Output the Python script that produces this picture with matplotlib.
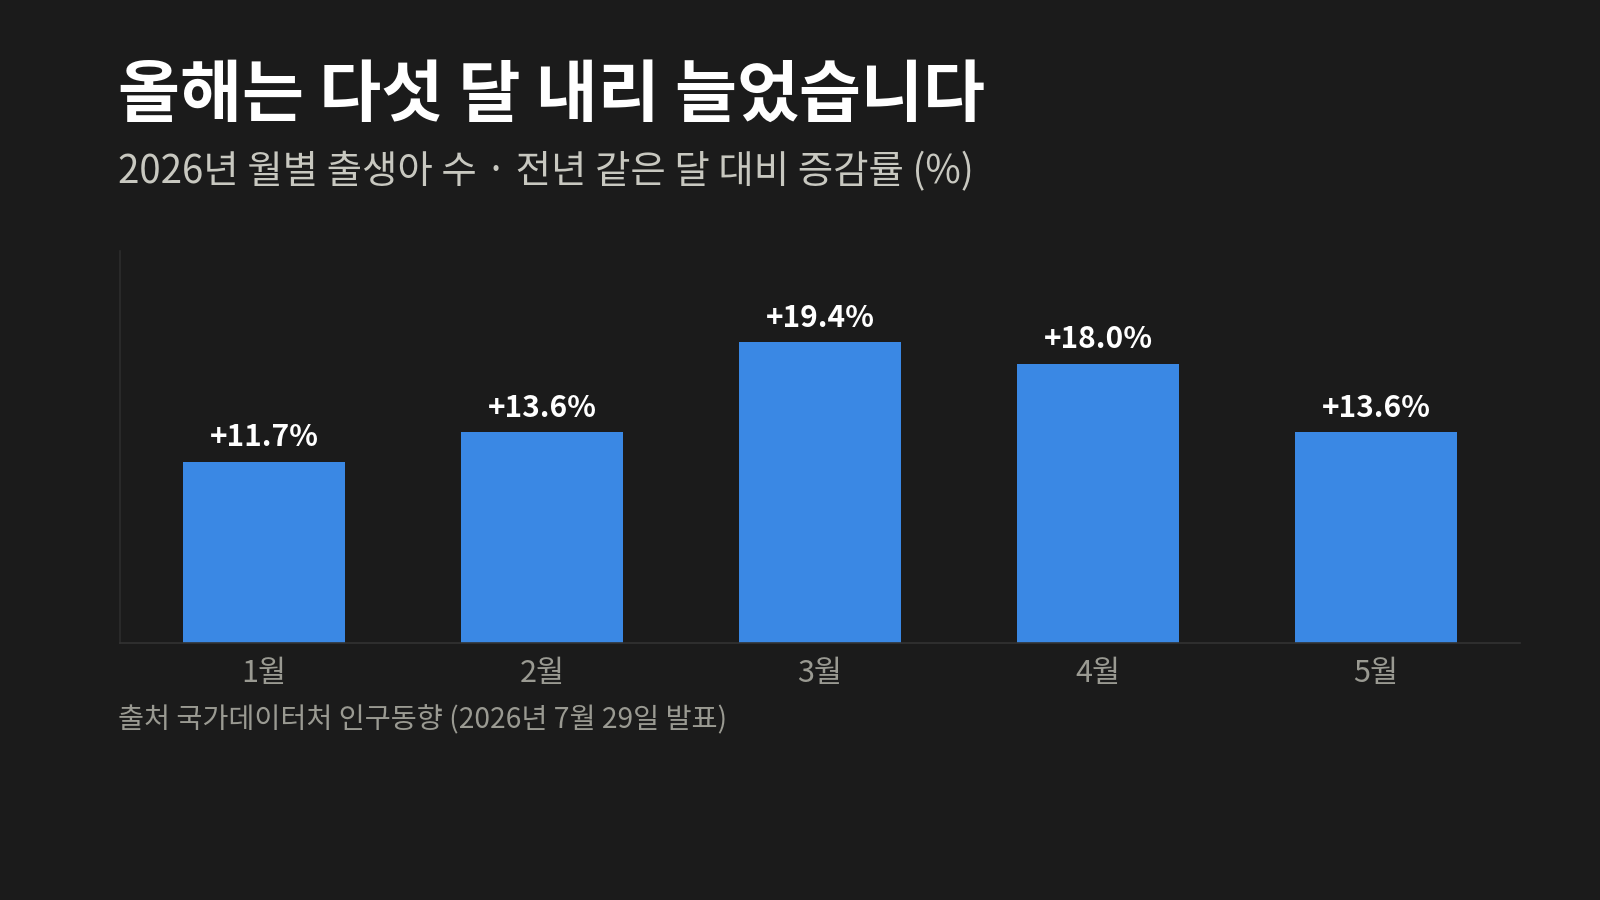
import matplotlib
matplotlib.use("Agg")
import matplotlib.pyplot as plt

months = ["1월", "2월", "3월", "4월", "5월"]
values = [11.7, 13.6, 19.4, 18.0, 13.6]
labels = ["+11.7%", "+13.6%", "+19.4%", "+18.0%", "+13.6%"]

title = "올해는 다섯 달 내리 늘었습니다"
subtitle = "2026년 월별 출생아 수 · 전년 같은 달 대비 증감률 (%)"
source = "출처 국가데이터처 인구동향 (2026년 7월 29일 발표)"

plt.rcParams['font.family'] = ['Noto Sans CJK KR', 'DejaVu Sans']

BG = "#1b1b1b"
BAR = "#3a88e4"

fig = plt.figure(figsize=(16, 9), dpi=100, facecolor=BG)
ax = fig.add_axes([0.075, 0.2856, 0.875, 0.4355])
ax.set_facecolor(BG)

x = list(range(len(months)))
ax.bar(x, values, width=0.583, color=BAR, zorder=2)
for xi, v, lab in zip(x, values, labels):
    ax.annotate(lab, (xi, v), xytext=(0, 7), textcoords="offset points",
                ha="center", va="bottom", color="white", fontsize=21.5,
                fontweight="bold")

ax.set_xlim(-0.518, 4.518)
ax.set_ylim(0, 25.3)
ax.set_xticks(x)
ax.set_xticklabels(months, fontsize=22, color="#9a9a92")
ax.tick_params(axis="x", length=0, pad=11)
ax.set_yticks([])
for s in ["top", "right"]:
    ax.spines[s].set_visible(False)
ax.spines["left"].set_color("#2c2c2c")
ax.spines["bottom"].set_color("#333333")
ax.spines["left"].set_linewidth(1.2)
ax.spines["bottom"].set_linewidth(1.2)

fig.text(118/1600, 1 - 96/900, title, fontsize=48.5, fontweight="bold",
         color="white", ha="left", va="center")
fig.text(118/1600, 1 - 172/900, subtitle, fontsize=27.7, color="#c8c8c0",
         ha="left", va="center")
fig.text(118/1600, 1 - 720/900, source, fontsize=20.4, color="#9a9a92",
         ha="left", va="center")

fig.savefig("out.png", dpi=100, facecolor=BG)
